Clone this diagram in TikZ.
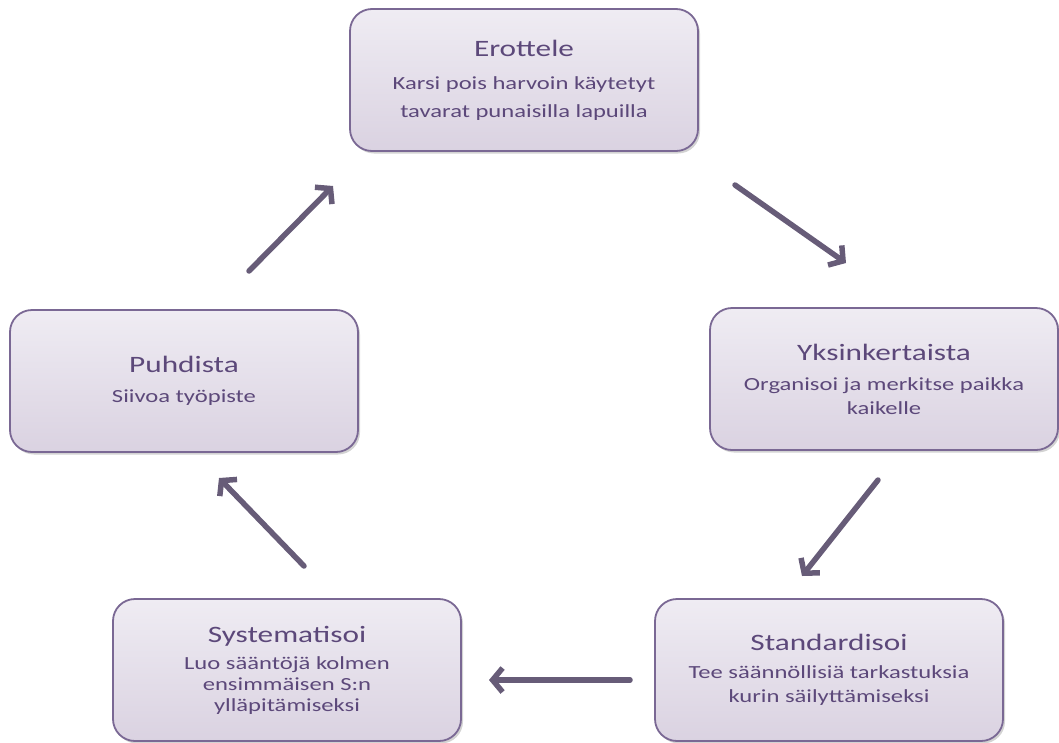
\documentclass[tikz,border=0pt]{standalone}
\usepackage{fontspec}
\setmainfont{Carlito}[FakeStretch=1.33]
\usetikzlibrary{arrows.meta,shadows}
\definecolor{boxtop}{HTML}{EFECF3}
\definecolor{boxbot}{HTML}{DAD2E1}
\definecolor{boxline}{HTML}{7A6894}
\definecolor{boxtext}{HTML}{5C487A}
\definecolor{flowgray}{HTML}{675C78}
\newcommand{\ttl}{\fontsize{23.5}{27}\selectfont}
\newcommand{\dsc}[1]{\fontsize{18.5}{#1}\selectfont}
\begin{document}
\begin{tikzpicture}[x=1pt, y=-1pt]
  \tikzset{
    sbox/.style={rectangle, rounded corners=22pt, draw=boxline, line width=1.8pt,
      top color=boxtop, bottom color=boxbot, minimum width=348pt, minimum height=142pt,
      align=center, text=boxtext, font=\dsc{24},
      drop shadow={shadow xshift=2pt, shadow yshift=-2.5pt, opacity=0.35}},
    flow/.style={flowgray, line width=5.5pt, line cap=round,
      -{Straight Barb[length=10pt, width=24pt]}}
  }
  \useasboundingbox (0,0) rectangle (1059,742);
  % --- boxes ---
  \node[sbox, font=\dsc{28}] (erottele) at (524,80)
    {{\ttl Erottele}\\[5pt]Karsi pois harvoin käytetyt\\tavarat punaisilla lapuilla};
  \node[sbox] (yksink) at (884,379)
    {{\ttl Yksinkertaista}\\[6pt]Organisoi ja merkitse paikka\\kaikelle};
  \node[sbox] (standard) at (829,670)
    {{\ttl Standardisoi}\\[4pt]Tee säännöllisiä tarkastuksia\\kurin säilyttämiseksi};
  \node[sbox, font=\dsc{21}] (system) at (287,670)
    {{\ttl Systematisoi}\\[6pt]Luo sääntöjä kolmen\\ensimmäisen S:n\\ylläpitämiseksi};
  \node[sbox] (puhdista) at (184,381)
    {{\ttl Puhdista}\\[6pt]Siivoa työpiste};
  % --- arrow ends ---
  \coordinate (e1) at (735,185);  \coordinate (y1) at (846,263);
  \coordinate (y2) at (878,480);  \coordinate (s1) at (802,576);
  \coordinate (s2) at (630,680);  \coordinate (t1) at (489,680);
  \coordinate (t2) at (304,566);  \coordinate (p1) at (219,478);
  \coordinate (p2) at (249,271);  \coordinate (e2) at (333,186);
  % --- arrows ---
  \draw[flow] (e1) -- (y1);
  \draw[flow] (y2) -- (s1);
  \draw[flow] (s2) -- (t1);
  \draw[flow] (t2) -- (p1);
  \draw[flow] (p2) -- (e2);
\end{tikzpicture}
\end{document}
